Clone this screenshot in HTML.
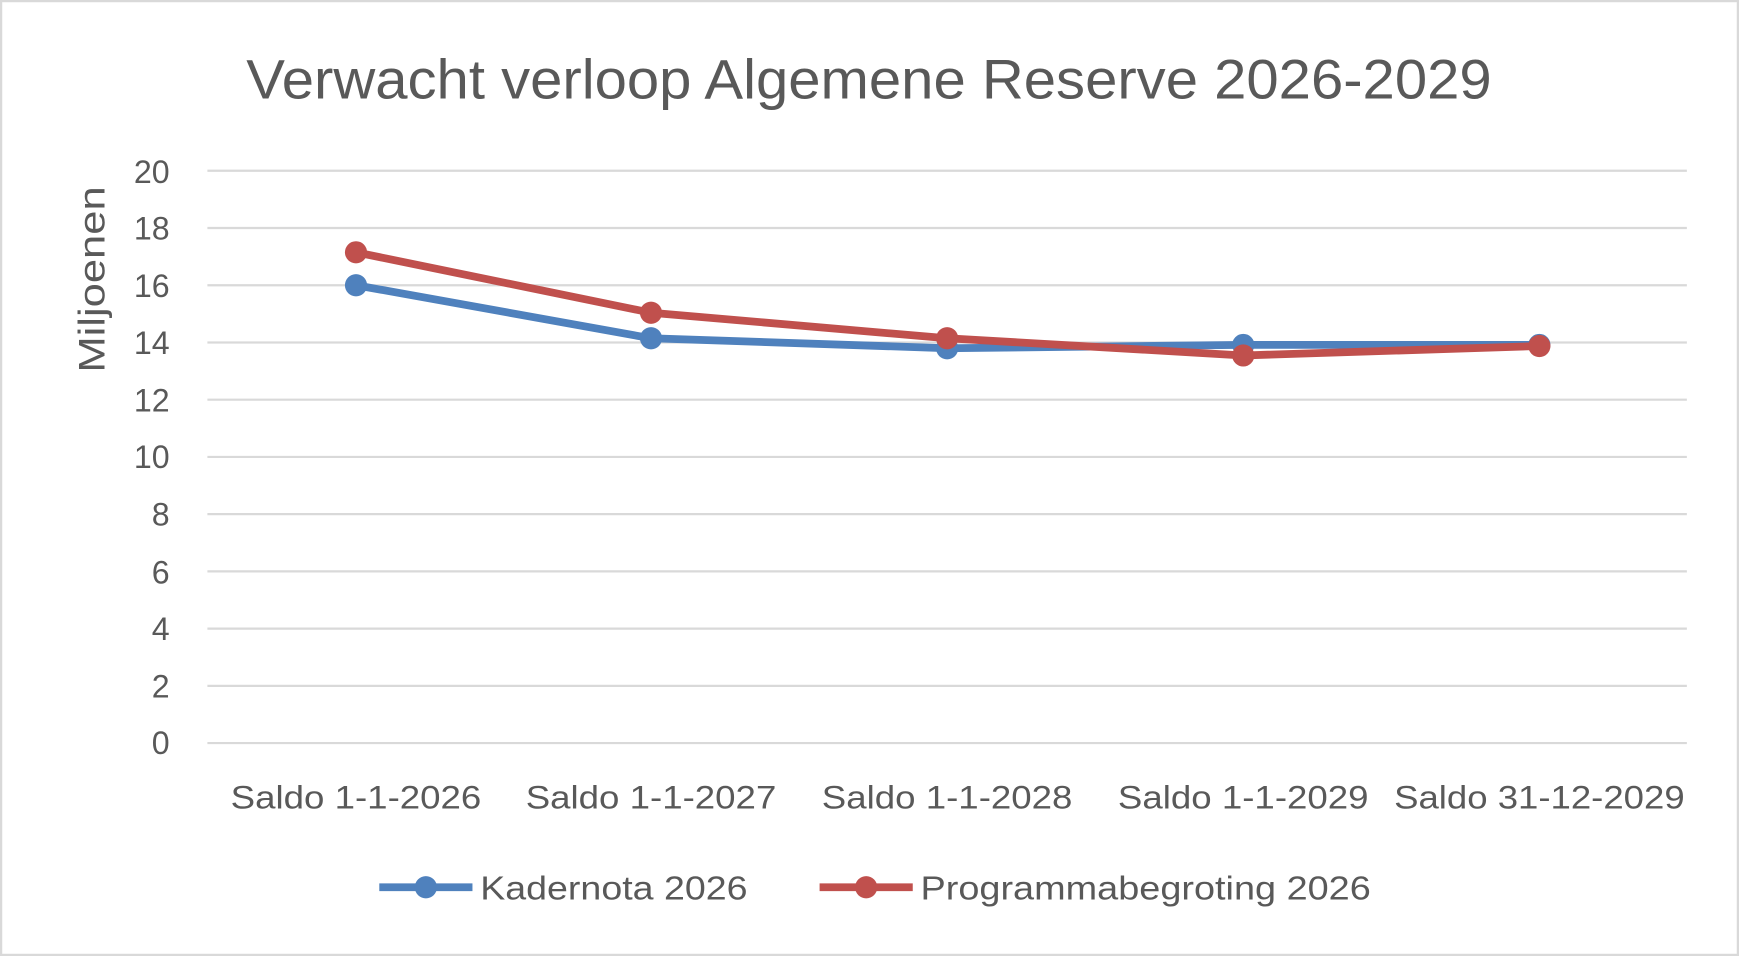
<!DOCTYPE html>
<html><head><style>html,body{margin:0;padding:0;background:#fff}svg{display:block}</style></head><body>
<svg width="1739" height="956" viewBox="0 0 1568 862" preserveAspectRatio="none" xmlns="http://www.w3.org/2000/svg" font-family="Liberation Sans, sans-serif">
<rect x="1" y="1" width="1566" height="860" fill="#fff" stroke="#d9d9d9" stroke-width="2"/>
<text x="222" y="89" textLength="1123" lengthAdjust="spacingAndGlyphs" font-size="50" fill="#595959">Verwacht verloop Algemene Reserve 2026-2029</text>
<g stroke="#d9d9d9" stroke-width="2">
<line x1="187" x2="1521" y1="154" y2="154"/><line x1="187" x2="1521" y1="205.6" y2="205.6"/><line x1="187" x2="1521" y1="257.2" y2="257.2"/><line x1="187" x2="1521" y1="308.8" y2="308.8"/><line x1="187" x2="1521" y1="360.4" y2="360.4"/><line x1="187" x2="1521" y1="412" y2="412"/><line x1="187" x2="1521" y1="463.6" y2="463.6"/><line x1="187" x2="1521" y1="515.2" y2="515.2"/><line x1="187" x2="1521" y1="566.8" y2="566.8"/><line x1="187" x2="1521" y1="618.4" y2="618.4"/><line x1="187" x2="1521" y1="670" y2="670"/>
</g>
<g font-size="29" fill="#595959" text-anchor="end">
<text x="153" y="165">20</text><text x="153" y="216">18</text><text x="153" y="268">16</text><text x="153" y="319">14</text><text x="153" y="371">12</text><text x="153" y="422">10</text><text x="153" y="474">8</text><text x="153" y="526">6</text><text x="153" y="577">4</text><text x="153" y="629">2</text><text x="153" y="680">0</text>
</g>
<text transform="translate(94,252) rotate(-90)" text-anchor="middle" font-size="33" textLength="168" lengthAdjust="spacingAndGlyphs" fill="#595959">Miljoenen</text>
<g font-size="29" fill="#595959" text-anchor="middle" lengthAdjust="spacingAndGlyphs">
<text x="321" y="729" textLength="226" lengthAdjust="spacingAndGlyphs">Saldo 1-1-2026</text><text x="587" y="729" textLength="226" lengthAdjust="spacingAndGlyphs">Saldo 1-1-2027</text><text x="854" y="729" textLength="226" lengthAdjust="spacingAndGlyphs">Saldo 1-1-2028</text><text x="1121" y="729" textLength="226" lengthAdjust="spacingAndGlyphs">Saldo 1-1-2029</text><text x="1388" y="729" textLength="262" lengthAdjust="spacingAndGlyphs">Saldo 31-12-2029</text>
</g>
<polyline fill="none" stroke="#4f81bd" stroke-width="7" stroke-linejoin="round" points="321,257.2 587,305 854,314 1121,311 1388,311"/>
<g fill="#4f81bd"><circle cx="321" cy="257.2" r="10"/><circle cx="587" cy="305" r="10"/><circle cx="854" cy="314" r="10"/><circle cx="1121" cy="311" r="10"/><circle cx="1388" cy="311" r="10"/></g>
<polyline fill="none" stroke="#c0504d" stroke-width="7" stroke-linejoin="round" points="321,227.5 587,282 854,305 1121,320.5 1388,312"/>
<g fill="#c0504d"><circle cx="321" cy="227.5" r="10"/><circle cx="587" cy="282" r="10"/><circle cx="854" cy="305" r="10"/><circle cx="1121" cy="320.5" r="10"/><circle cx="1388" cy="312" r="10"/></g>
<line x1="342" x2="426" y1="800" y2="800" stroke="#4f81bd" stroke-width="7"/><circle cx="384" cy="800" r="10" fill="#4f81bd"/>
<text x="433" y="811" font-size="30" textLength="241" lengthAdjust="spacingAndGlyphs" fill="#595959">Kadernota 2026</text>
<line x1="739" x2="823" y1="800" y2="800" stroke="#c0504d" stroke-width="7"/><circle cx="781" cy="800" r="10" fill="#c0504d"/>
<text x="830" y="811" font-size="30" textLength="406" lengthAdjust="spacingAndGlyphs" fill="#595959">Programmabegroting 2026</text>
</svg>
</body></html>
